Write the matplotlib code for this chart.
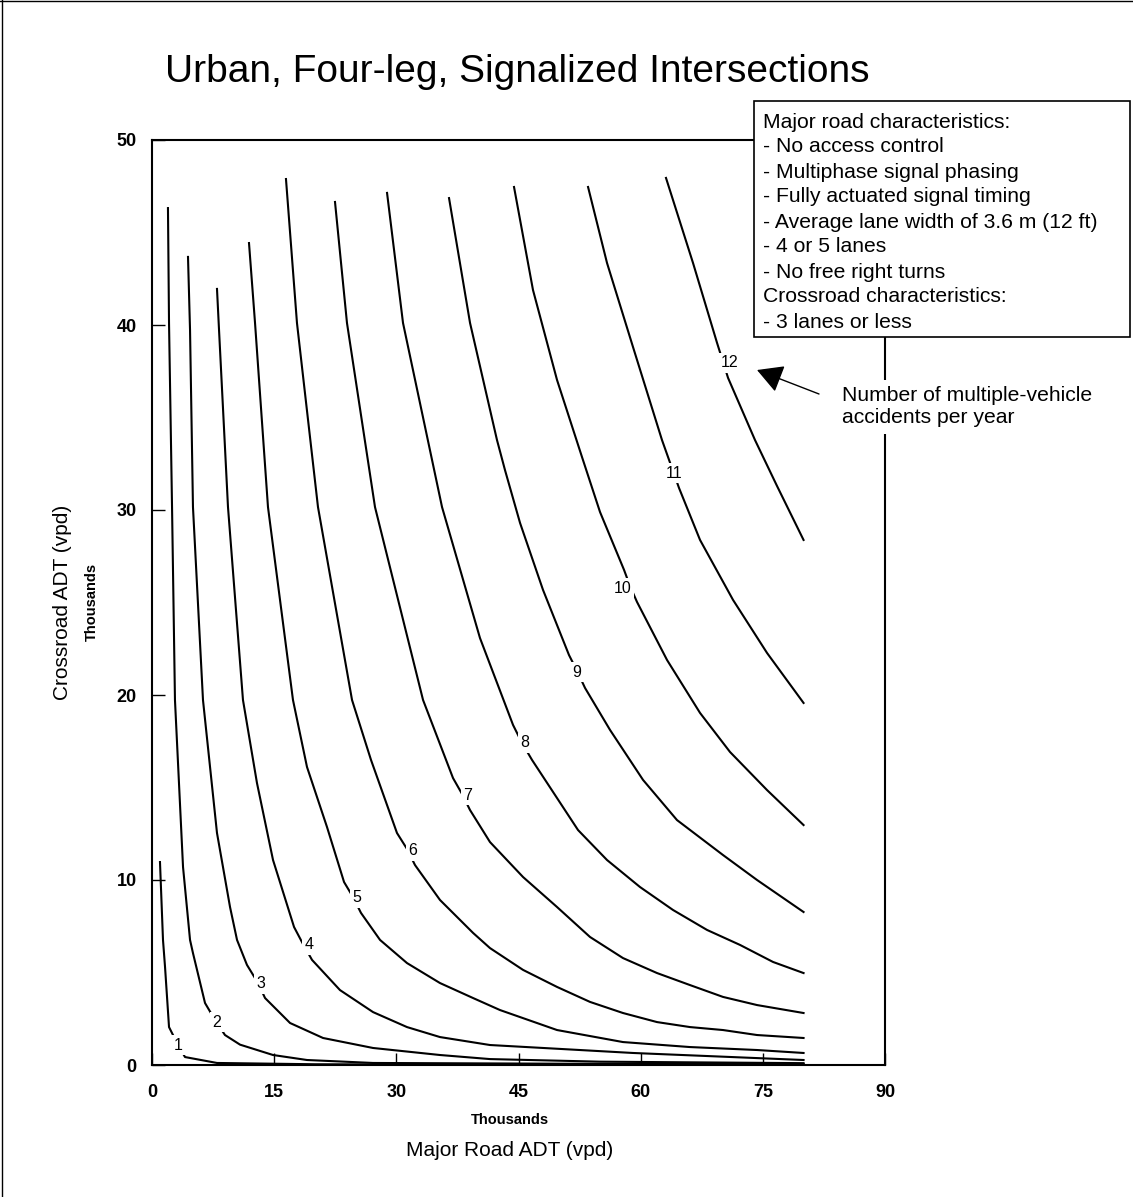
import matplotlib
matplotlib.use("Agg")
import matplotlib.pyplot as plt
from matplotlib.patches import Rectangle, FancyArrowPatch
from matplotlib.lines import Line2D

plt.rcParams['font.family'] = ['Liberation Sans', 'DejaVu Sans']

# Major road ADT (x, thousands) and crossroad ADT (y, thousands)
c1_x = [0.98, 1.35, 1.60, 2.09, 3.07, 4.05, 7.98, 20, 40, 80]
c1_y = [10.97, 6.76, 5.30, 2.05, 1.19, 0.43, 0.11, 0.04, 0.02, 0.01]

c2_x = [1.96, 2.09, 2.46, 2.82, 3.81, 4.67, 5.03, 6.51, 7.74, 8.96, 10.81, 14.86, 19.03, 27.14, 50, 80]
c2_y = [46.32, 40.11, 30.16, 19.73, 10.70, 6.76, 6.05, 3.35, 2.43, 1.62, 1.10, 0.54, 0.27, 0.11, 0.07, 0.05]

c3_x = [4.42, 4.67, 5.03, 6.26, 7.98, 9.58, 10.44, 11.66, 13.02, 13.88, 16.95, 21.00, 27.14, 35.36, 41.50, 55.0, 80]
c3_y = [43.68, 39.73, 30.16, 19.73, 12.54, 8.54, 6.76, 5.41, 4.43, 3.62, 2.27, 1.46, 0.92, 0.54, 0.32, 0.18, 0.10]

c4_x = [7.98, 8.23, 9.33, 11.17, 12.89, 14.86, 17.44, 18.54, 19.65, 23.08, 27.14, 31.31, 35.36, 41.50, 59.06, 80]
c4_y = [41.95, 39.73, 30.16, 19.73, 15.24, 11.08, 7.46, 6.54, 5.68, 4.05, 2.86, 2.05, 1.51, 1.08, 0.65, 0.27]

c5_x = [11.91, 12.65, 14.24, 17.31, 19.03, 21.49, 23.58, 24.68, 25.66, 28.00, 31.31, 35.36, 39.42, 42.73, 49.73, 57.83, 66.06, 74.29, 80]
c5_y = [44.43, 40.11, 30.16, 19.73, 16.11, 12.86, 9.89, 9.08, 8.22, 6.76, 5.51, 4.43, 3.62, 2.97, 1.89, 1.24, 0.97, 0.81, 0.65]

c6_x = [16.45, 17.80, 20.38, 24.56, 26.89, 30.08, 31.31, 32.29, 35.36, 39.42, 41.50, 45.56, 49.73, 53.78, 57.83, 62.01, 66.06, 70.11, 74.29, 80]
c6_y = [47.89, 40.11, 30.16, 19.73, 16.49, 12.54, 11.68, 10.81, 8.92, 7.14, 6.32, 5.14, 4.22, 3.41, 2.81, 2.32, 2.05, 1.89, 1.62, 1.46]

c7_x = [22.47, 23.94, 27.38, 33.28, 36.96, 38.07, 39.05, 41.50, 45.56, 49.73, 53.78, 57.83, 62.01, 66.06, 70.11, 74.29, 80]
c7_y = [46.65, 40.11, 30.16, 19.73, 15.51, 14.65, 13.78, 12.05, 10.16, 8.54, 6.92, 5.78, 4.97, 4.32, 3.68, 3.24, 2.81]

c8_x = [28.86, 30.82, 35.61, 40.27, 44.33, 45.43, 46.66, 52.31, 55.87, 59.92, 63.97, 68.15, 72.20, 76.25, 80]
c8_y = [47.14, 40.11, 30.16, 23.08, 18.38, 17.41, 16.49, 12.70, 11.08, 9.62, 8.38, 7.30, 6.49, 5.57, 4.97]

c9_x = [36.47, 39.05, 42.36, 43.34, 45.19, 48.01, 51.20, 52.19, 53.17, 56.24, 60.29, 64.46, 70.11, 74.29, 80]
c9_y = [46.86, 40.11, 33.78, 32.16, 29.30, 25.68, 22.16, 21.30, 20.38, 18.11, 15.41, 13.24, 11.35, 10.00, 8.27]

c10_x = [44.45, 46.78, 49.73, 52.80, 55.01, 57.96, 58.69, 59.55, 63.24, 67.29, 70.97, 75.52, 80]
c10_y = [47.46, 41.89, 37.03, 32.86, 29.89, 26.76, 25.89, 25.03, 21.89, 19.03, 16.92, 14.86, 12.97]

c11_x = [53.54, 55.87, 59.06, 62.62, 64.71, 67.29, 71.34, 75.52, 80]
c11_y = [47.46, 43.35, 38.81, 33.78, 31.19, 28.38, 25.14, 22.27, 19.57]

c12_x = [63.11, 66.43, 69.38, 70.73, 74.04, 76.74, 80]
c12_y = [47.95, 43.35, 39.03, 37.14, 33.78, 31.30, 28.38]

levels = [1, 2, 3, 4, 5, 6, 7, 8, 9, 10, 11, 12]
label_x = [3.19, 7.98, 13.38, 19.28, 25.17, 32.05, 38.80, 45.80, 52.19, 57.83, 64.10, 70.97]
label_y = [1.08, 2.32, 4.38, 6.49, 9.03, 11.57, 14.59, 17.41, 21.24, 25.78, 32.00, 37.95]

x_ticks = [0, 15, 30, 45, 60, 75, 90]
y_ticks = [0, 10, 20, 30, 40, 50]

notes = [
    "Major road characteristics:",
    "- No access control",
    "- Multiphase signal phasing",
    "- Fully actuated signal timing",
    "- Average lane width of 3.6 m (12 ft)",
    "- 4 or 5 lanes",
    "- No free right turns",
    "Crossroad characteristics:",
    "- 3 lanes or less",
]

curves_x = [c1_x, c2_x, c3_x, c4_x, c5_x, c6_x, c7_x, c8_x, c9_x, c10_x, c11_x, c12_x]
curves_y = [c1_y, c2_y, c3_y, c4_y, c5_y, c6_y, c7_y, c8_y, c9_y, c10_y, c11_y, c12_y]

W, H = 1133, 1197


def fpos(px, py):
    # pixel position in the picture -> figure fraction
    return px / W, 1 - py / H


fig = plt.figure(figsize=(W / 100, H / 100), dpi=100)
ax = fig.add_axes([152 / W, 1 - 1065 / H, (885 - 152) / W, (1065 - 140) / H])

for xs, ys in zip(curves_x, curves_y):
    ax.plot(xs, ys, color="black", lw=1.5, solid_joinstyle="round")

for lev, lx, ly in zip(levels, label_x, label_y):
    ax.text(lx, ly, str(lev), ha="center", va="center", fontsize=11.5, zorder=4,
            bbox=dict(boxstyle="square,pad=0.15", fc="white", ec="none"))

ax.set_xlim(0, 90)
ax.set_ylim(0, 50)
ax.set_xticks(x_ticks)
ax.set_yticks(y_ticks)
ax.tick_params(axis="both", direction="in", length=9, width=1, labelsize=13)
ax.tick_params(axis="x", pad=14)
ax.tick_params(axis="y", pad=11)
for lbl in ax.get_xticklabels() + ax.get_yticklabels():
    lbl.set_fontweight("bold")
for sp in ax.spines.values():
    sp.set_linewidth(1.5)

# title and axis titles
fig.text(*fpos(165, 82), "Urban, Four-leg, Signalized Intersections", fontsize=28,
         ha="left", va="baseline")
fig.text(*fpos(510, 1120), "Thousands", fontsize=10.5, fontweight="bold", ha="center", va="center")
fig.text(*fpos(510, 1150), "Major Road ADT (vpd)", fontsize=15, ha="center", va="center")
fig.text(*fpos(62, 602), "Crossroad ADT (vpd)", fontsize=15, rotation=90, ha="center", va="center")
fig.text(*fpos(92, 602), "Thousands", fontsize=10.5, fontweight="bold", rotation=90,
         ha="center", va="center")

# characteristics box
x0, y0 = fpos(754, 337)
box = Rectangle((x0, y0), (1130 - 754) / W, (337 - 101) / H, transform=fig.transFigure,
                fc="white", ec="black", lw=1.2, zorder=5)
fig.add_artist(box)
for i, line in enumerate(notes):
    fig.text(*fpos(763, 122 + 25 * i), line, fontsize=15.2, ha="left", va="center", zorder=6)

# pointer to curve labels
fig.text(*fpos(842, 407), "Number of multiple-vehicle\naccidents per year", fontsize=15.2,
         ha="left", va="center", zorder=6,
         bbox=dict(boxstyle="square,pad=0.3", fc="white", ec="none"))
arrow = FancyArrowPatch(fpos(819, 394), fpos(757, 370), transform=fig.transFigure,
                        arrowstyle="-|>,head_length=0.4,head_width=0.22", mutation_scale=40,
                        color="black", lw=1, shrinkA=0, shrinkB=0, zorder=7)
fig.add_artist(arrow)

# page border
fig.add_artist(Line2D([2 / W, 2 / W], [0, 1], transform=fig.transFigure, color="black", lw=1))
fig.add_artist(Line2D([0, 1], [1 - 1 / H, 1 - 1 / H], transform=fig.transFigure, color="black", lw=1))

fig.savefig("out.png", dpi=100)
